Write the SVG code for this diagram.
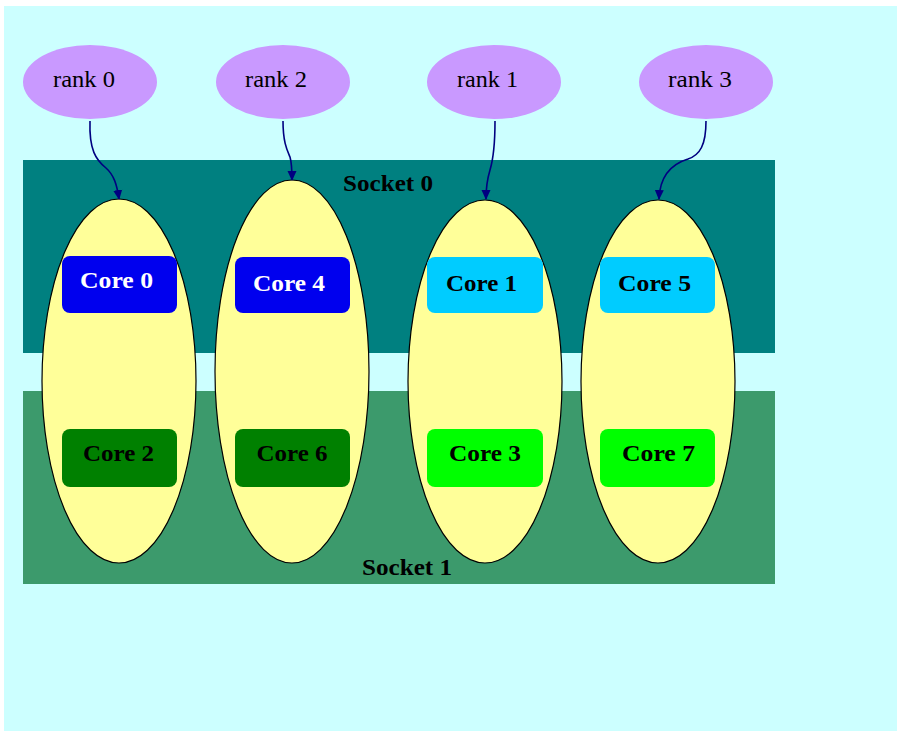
<svg xmlns="http://www.w3.org/2000/svg" width="897" height="731" viewBox="0 0 897 731">
<defs>
<marker id="arr" markerWidth="10" markerHeight="10" refX="9" refY="5" orient="auto" markerUnits="userSpaceOnUse" viewBox="0 0 10 10">
<path d="M0,0.5 L10,5 L0,9.5 Z" fill="#000080"/>
</marker>
<style>
.rank{fill:#c999ff;stroke:none}
.rt{font-family:"Liberation Serif",serif;font-size:23px;fill:#000;text-anchor:middle}
.proc{fill:#ffff99;stroke:#000;stroke-width:1.2}
.core{stroke:none}
.ct{font-family:"Liberation Serif",serif;font-size:24px;font-weight:bold;text-anchor:middle}
.st{font-family:"Liberation Serif",serif;font-size:24px;font-weight:bold;fill:#000;text-anchor:middle}
.edge{fill:none;stroke:#000080;stroke-width:1.6;marker-end:url(#arr)}
</style>
</defs>
<rect x="0" y="0" width="897" height="731" fill="#ffffff"/>
<rect x="4" y="6" width="893" height="725" fill="#ccffff"/>
<g id="socket0"><rect x="23" y="160" width="752" height="193" fill="#008080"/><text class="st" x="388" y="191" textLength="90" lengthAdjust="spacingAndGlyphs">Socket 0</text></g>
<g id="socket1"><rect x="23" y="391" width="752" height="193" fill="#3c9a6c"/><text class="st" x="407" y="575" textLength="90" lengthAdjust="spacingAndGlyphs">Socket 1</text></g>
<g id="proc0"><ellipse class="proc" cx="119" cy="381" rx="77" ry="182"/></g>
<g id="proc2"><ellipse class="proc" cx="292" cy="371.5" rx="77" ry="191.5"/></g>
<g id="proc1"><ellipse class="proc" cx="485" cy="381.5" rx="77" ry="181.5"/></g>
<g id="proc3"><ellipse class="proc" cx="658" cy="381.5" rx="77" ry="181.5"/></g>
<g id="core0"><rect class="core" x="62" y="256" width="115" height="57" rx="8" fill="#0000ee"/><text class="ct" x="116.5" y="288" fill="#fff" textLength="73" lengthAdjust="spacingAndGlyphs">Core 0</text></g>
<g id="core4"><rect class="core" x="235" y="257" width="115" height="56" rx="8" fill="#0000ee"/><text class="ct" x="289" y="291" fill="#fff" textLength="72" lengthAdjust="spacingAndGlyphs">Core 4</text></g>
<g id="core1"><rect class="core" x="427" y="257" width="116" height="56" rx="8" fill="#00ccff"/><text class="ct" x="481.5" y="291" fill="#000" textLength="71" lengthAdjust="spacingAndGlyphs">Core 1</text></g>
<g id="core5"><rect class="core" x="600" y="257" width="115" height="56" rx="8" fill="#00ccff"/><text class="ct" x="654.5" y="291" fill="#000" textLength="73" lengthAdjust="spacingAndGlyphs">Core 5</text></g>
<g id="core2"><rect class="core" x="62" y="429" width="115" height="58" rx="8" fill="#008000"/><text class="ct" x="118.5" y="461" fill="#000" textLength="71" lengthAdjust="spacingAndGlyphs">Core 2</text></g>
<g id="core6"><rect class="core" x="235" y="429" width="115" height="58" rx="8" fill="#008000"/><text class="ct" x="292" y="461" fill="#000" textLength="71" lengthAdjust="spacingAndGlyphs">Core 6</text></g>
<g id="core3"><rect class="core" x="427" y="429" width="116" height="58" rx="8" fill="#00ff00"/><text class="ct" x="485" y="461" fill="#000" textLength="72" lengthAdjust="spacingAndGlyphs">Core 3</text></g>
<g id="core7"><rect class="core" x="600" y="429" width="115" height="58" rx="8" fill="#00ff00"/><text class="ct" x="658.5" y="461" fill="#000" textLength="73" lengthAdjust="spacingAndGlyphs">Core 7</text></g>
<g id="rank0"><ellipse class="rank" cx="90" cy="82" rx="67" ry="37"/><text class="rt" x="84" y="87" textLength="62" lengthAdjust="spacingAndGlyphs">rank 0</text></g>
<g id="rank2"><ellipse class="rank" cx="283" cy="82" rx="67" ry="37"/><text class="rt" x="276" y="87" textLength="62" lengthAdjust="spacingAndGlyphs">rank 2</text></g>
<g id="rank1"><ellipse class="rank" cx="494" cy="82" rx="67" ry="37"/><text class="rt" x="487.5" y="87" textLength="61" lengthAdjust="spacingAndGlyphs">rank 1</text></g>
<g id="rank3"><ellipse class="rank" cx="706" cy="82" rx="67" ry="37"/><text class="rt" x="700" y="87" textLength="64" lengthAdjust="spacingAndGlyphs">rank 3</text></g>
<g id="connectors">
<path class="edge" d="M90,121 C89,150 96,160 106,168 C114,175 117,185 119,199"/>
<path class="edge" d="M283,121 C283,142 287,150 290,157 C292,164 292,170 292,180"/>
<path class="edge" d="M495,121 C495,145 493,160 490,170 C487,180 486,188 486,199"/>
<path class="edge" d="M706,121 C706,145 700,155 688,159 C675,163 660,172 659,199"/>
</g>
</svg>
